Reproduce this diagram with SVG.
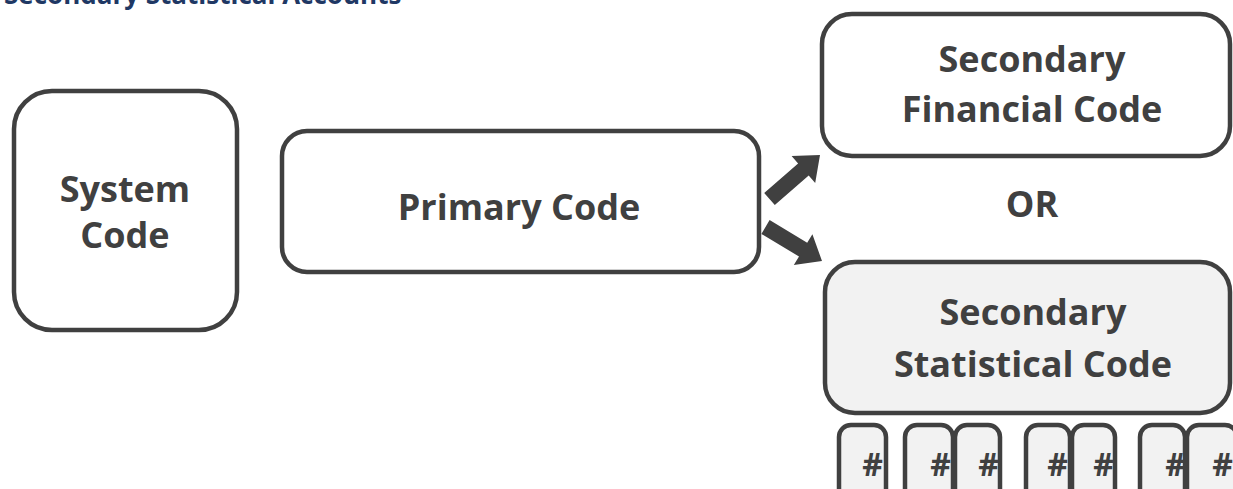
<svg xmlns="http://www.w3.org/2000/svg" width="1233" height="489" viewBox="0 0 1233 489">
<style>
.box{fill:#ffffff;stroke:#404040;stroke-width:4.5}
.grey{fill:#f2f2f2;stroke:#404040;stroke-width:4.5}
.lbl{font-family:"Open Sans","Liberation Sans",sans-serif;font-weight:bold;font-size:36px;fill:#404040;text-anchor:middle}
.hash{font-family:"Open Sans","Liberation Sans",sans-serif;font-weight:bold;font-size:32px;fill:#404040;text-anchor:end}
.title{font-family:"Open Sans","Liberation Sans",sans-serif;font-weight:bold;font-size:26px;fill:#1f3864}
.arrow{fill:#404040}
</style>
<rect width="1233" height="489" fill="#ffffff"/>
<text class="title" x="4" y="4">Secondary Statistical Accounts</text>
<g id="system-code">
<rect class="box" x="14" y="91" width="223" height="239" rx="38"/>
<text class="lbl" x="125" y="202">System</text>
<text class="lbl" x="125" y="248">Code</text>
</g>
<g id="primary-code">
<rect class="box" x="282" y="131" width="477" height="141" rx="25"/>
<text class="lbl" x="519" y="220">Primary Code</text>
</g>
<g id="secondary-financial">
<rect class="box" x="822" y="14" width="408" height="142" rx="30"/>
<text class="lbl" x="1032" y="72">Secondary</text>
<text class="lbl" x="1032" y="122">Financial Code</text>
</g>
<g id="or">
<text class="lbl" x="1032" y="217">OR</text>
</g>
<g id="secondary-statistical">
<rect class="grey" x="825" y="262" width="405" height="151" rx="30"/>
<text class="lbl" x="1033" y="325">Secondary</text>
<text class="lbl" x="1033" y="377">Statistical Code</text>
</g>
<g id="hash-boxes">
<rect class="grey" x="839" y="425" width="47" height="90" rx="12"/>
<text class="hash" x="883" y="476">#</text>
<rect class="grey" x="905" y="425" width="48" height="90" rx="12"/>
<text class="hash" x="951" y="476">#</text>
<rect class="grey" x="955" y="425" width="45" height="90" rx="12"/>
<text class="hash" x="999" y="476">#</text>
<rect class="grey" x="1026" y="425" width="44" height="90" rx="12"/>
<text class="hash" x="1068" y="476">#</text>
<rect class="grey" x="1072" y="425" width="43" height="90" rx="12"/>
<text class="hash" x="1114" y="476">#</text>
<rect class="grey" x="1140" y="425" width="45" height="90" rx="12"/>
<text class="hash" x="1186" y="476">#</text>
<rect class="grey" x="1187" y="425" width="50" height="90" rx="12"/>
<text class="hash" x="1233" y="476">#</text>
</g>
<g id="connectors">
<polygon class="arrow" points="764.2,193 798.1,163.5 791.6,155.9 820,155 815.2,183.1 808.7,175.5 774.8,205"/>
<polygon class="arrow" points="769.6,220.1 807.2,242.7 812.4,234.2 822,261 793.8,265 799,256.5 761.4,233.9"/>
</g>
</svg>
